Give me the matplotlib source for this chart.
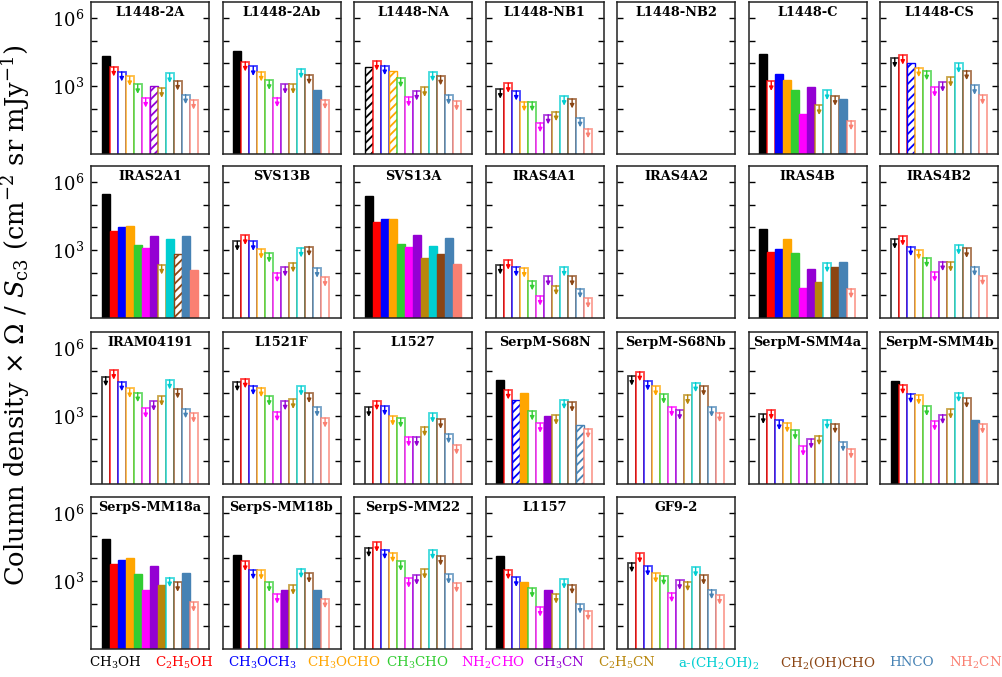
import numpy as np
import matplotlib
matplotlib.use('Agg')
import matplotlib.pyplot as plt
from matplotlib.ticker import FixedLocator, FuncFormatter, NullLocator
from matplotlib.colors import to_rgba

plt.rcParams['font.family'] = ['DejaVu Serif']
plt.rcParams['mathtext.fontset'] = 'dejavuserif'
plt.rcParams['hatch.linewidth'] = 1.3

species = ['CH$_3$OH', 'C$_2$H$_5$OH', 'CH$_3$OCH$_3$', 'CH$_3$OCHO', 'CH$_3$CHO',
           'NH$_2$CHO', 'CH$_3$CN', 'C$_2$H$_5$CN', 'a-(CH$_2$OH)$_2$',
           'CH$_2$(OH)CHO', 'HNCO', 'NH$_2$CN']
colors = ['black', 'red', 'blue', 'orange', 'limegreen', 'magenta', 'darkviolet',
          'darkgoldenrod', 'darkturquoise', 'saddlebrown', 'steelblue', 'salmon']

# log10 of column density x Omega / S_c3 ; status: D=detection, U=upper limit, T=tentative
L1448_2A = [4.33, 3.84, 3.62, 3.42, 3.07, 2.47, 3.00, 2.90, 3.55, 3.22, 2.62, 2.38]
L1448_2A_s = "DUUUUUTUUUUU"
L1448_2Ab = [4.52, 4.06, 3.86, 3.62, 3.25, 2.49, 3.07, 3.07, 3.75, 3.49, 2.84, 2.40]
L1448_2Ab_s = "DUUUUUUUUUDU"
L1448_NA = [3.84, 4.10, 3.90, 3.68, 3.36, 2.51, 2.78, 2.94, 3.62, 3.45, 2.60, 2.33]
L1448_NA_s = "TUUTUUUUUUUU"
L1448_NB1 = [2.86, 3.12, 2.78, 2.30, 2.30, 1.38, 1.73, 1.87, 2.55, 2.43, 1.60, 1.12]
L1448_NB1_s = "UUUUUUUUUUUU"
L1448_C = [4.42, 3.20, 3.54, 3.25, 2.83, 1.75, 2.94, 2.14, 2.80, 2.55, 2.43, 1.47]
L1448_C_s = "DUDDDDDUUUDU"
L1448_CS = [4.23, 4.36, 4.03, 3.81, 3.67, 2.94, 3.16, 3.38, 3.99, 3.68, 3.03, 2.60]
L1448_CS_s = "UUTUUUUUUUUU"
IRAS2A1 = [5.47, 3.82, 4.00, 4.05, 3.21, 3.10, 3.60, 2.34, 3.47, 2.84, 3.63, 2.12]
IRAS2A1_s = "DDDDDDDUDTDD"
SVS13B = [3.38, 3.64, 3.38, 3.03, 2.86, 2.00, 2.25, 2.43, 3.09, 3.15, 2.20, 1.80]
SVS13B_s = "UUUUUUUUUUUU"
SVS13A = [5.36, 4.23, 4.35, 4.35, 3.25, 3.12, 3.66, 2.65, 3.16, 2.82, 3.54, 2.39]
SVS13A_s = "DDDDDDDDDDDD"
IRAS4A1 = [2.34, 2.55, 2.25, 2.20, 1.64, 0.97, 1.83, 1.43, 2.25, 1.83, 1.30, 0.86]
IRAS4A1_s = "UUUUUUUUUUUU"
IRAS4B = [3.92, 2.90, 3.06, 3.47, 2.86, 1.32, 2.14, 1.58, 2.43, 2.24, 2.47, 1.29]
IRAS4B_s = "DDDDDDDDUDDU"
IRAS4B2 = [3.47, 3.61, 3.15, 3.00, 2.65, 2.02, 2.49, 2.46, 3.21, 3.07, 2.27, 1.86]
IRAS4B2_s = "UUUUUUUUUUUU"
IRAM04191 = [4.73, 5.02, 4.51, 4.21, 4.03, 3.33, 3.64, 3.86, 4.59, 4.19, 3.32, 3.12]
IRAM04191_s = "UUUUUUUUUUUU"
L1521F = [4.51, 4.64, 4.34, 4.25, 3.87, 3.19, 3.67, 3.73, 4.31, 3.99, 3.39, 2.91]
L1521F_s = "UUUUUUUUUUUU"
L1527 = [3.38, 3.67, 3.44, 2.99, 2.91, 2.07, 2.07, 2.52, 3.12, 2.85, 2.21, 1.72]
L1527_s = "UUUUUUUUUUUU"
S68N = [4.59, 4.15, 3.72, 4.01, 3.22, 2.68, 2.99, 3.03, 3.72, 3.60, 2.59, 2.44]
S68N_s = "DUTDUUDUUUTU"
S68Nb = [4.76, 4.95, 4.54, 4.30, 3.96, 3.39, 3.25, 3.92, 4.47, 4.31, 3.38, 3.15]
S68Nb_s = "UUUUUUUUUUUU"
SMM4a = [3.07, 3.26, 2.80, 2.69, 2.37, 1.66, 1.98, 2.13, 2.83, 2.65, 1.85, 1.54]
SMM4a_s = "UUUUUUUUUUUU"
SMM4b = [4.54, 4.38, 3.98, 3.92, 3.42, 2.77, 3.06, 3.29, 4.03, 3.77, 2.84, 2.64]
SMM4b_s = "DUUUUUUUUUDU"
MM18a = [4.86, 3.76, 3.93, 4.00, 3.31, 2.59, 3.64, 2.81, 3.15, 2.94, 3.36, 2.06]
MM18a_s = "DDDDDDDDUUDU"
MM18b = [4.16, 3.86, 3.49, 3.47, 2.94, 2.42, 2.59, 2.81, 3.54, 3.33, 2.62, 2.22]
MM18b_s = "DUUUUUDUUUDU"
MM22 = [4.47, 4.70, 4.38, 4.24, 3.86, 3.12, 3.25, 3.51, 4.37, 4.10, 3.29, 2.91]
MM22_s = "UUUUUUUUUUUU"
L1157 = [4.08, 3.49, 3.16, 2.94, 2.68, 1.85, 2.61, 2.42, 3.07, 2.84, 1.98, 1.68]
L1157_s = "DUUDUUDUUUUU"
GF9_2 = [3.80, 4.21, 3.64, 3.33, 3.23, 2.48, 3.03, 2.97, 3.60, 3.25, 2.62, 2.38]
GF9_2_s = "UUUUUUUUUUUU"

panels = [
    [("L1448-2A", L1448_2A, L1448_2A_s), ("L1448-2Ab", L1448_2Ab, L1448_2Ab_s),
     ("L1448-NA", L1448_NA, L1448_NA_s), ("L1448-NB1", L1448_NB1, L1448_NB1_s),
     ("L1448-NB2", None, None), ("L1448-C", L1448_C, L1448_C_s),
     ("L1448-CS", L1448_CS, L1448_CS_s)],
    [("IRAS2A1", IRAS2A1, IRAS2A1_s), ("SVS13B", SVS13B, SVS13B_s),
     ("SVS13A", SVS13A, SVS13A_s), ("IRAS4A1", IRAS4A1, IRAS4A1_s),
     ("IRAS4A2", None, None), ("IRAS4B", IRAS4B, IRAS4B_s),
     ("IRAS4B2", IRAS4B2, IRAS4B2_s)],
    [("IRAM04191", IRAM04191, IRAM04191_s), ("L1521F", L1521F, L1521F_s),
     ("L1527", L1527, L1527_s), ("SerpM-S68N", S68N, S68N_s),
     ("SerpM-S68Nb", S68Nb, S68Nb_s), ("SerpM-SMM4a", SMM4a, SMM4a_s),
     ("SerpM-SMM4b", SMM4b, SMM4b_s)],
    [("SerpS-MM18a", MM18a, MM18a_s), ("SerpS-MM18b", MM18b, MM18b_s),
     ("SerpS-MM22", MM22, MM22_s), ("L1157", L1157, L1157_s),
     ("GF9-2", GF9_2, GF9_2_s)],
]

W, H = 1002, 677
fig = plt.figure(figsize=(W / 100, H / 100), dpi=100)

col_left = [91, 222.5, 354, 485.5, 617, 748.5, 880]
row_top = [2, 166, 332, 497]
pw, ph = 118, 152

x = np.arange(len(species))
for r, row in enumerate(panels):
    for c, (name, vals, st) in enumerate(row):
        ax = fig.add_axes([col_left[c] / W, 1 - (row_top[r] + ph) / H, pw / W, ph / H])
        ax.set_yscale('log')
        ax.set_ylim(1, 10 ** 6.7)
        ax.set_xlim(-1.85, 12.93)
        ax.set_xticks([])
        ax.yaxis.set_major_locator(FixedLocator([10.0 ** k for k in range(1, 7)]))
        ax.yaxis.set_minor_locator(NullLocator())
        ax.yaxis.set_major_formatter(FuncFormatter(
            lambda v, p: ('$10^{%d}$' % round(np.log10(v))) if round(np.log10(v)) in (3, 6) else ''))
        ax.tick_params(axis='y', which='major', direction='in', left=True, right=True,
                       length=4, width=1.0, labelsize=13, labelleft=(c == 0), pad=5)
        for sp in ax.spines.values():
            sp.set_linewidth(1.1)
            sp.set_color('#222222')
        ax.text(0.5, 0.975, name, transform=ax.transAxes, ha='center', va='top',
                fontsize=9.3, fontweight='bold')
        if vals is None:
            continue
        v = 10.0 ** np.array(vals)
        for i in range(len(species)):
            col = colors[i]
            s = st[i]
            if s == 'D':
                ax.bar(x[i], v[i], width=1.0, color=col, edgecolor=col, linewidth=1.0)
            elif s == 'T':
                ax.bar(x[i], v[i], width=1.0, facecolor='white', edgecolor=col,
                       linewidth=1.0, hatch='////')
            else:
                ax.bar(x[i], v[i], width=1.0, facecolor='white',
                       edgecolor=to_rgba(col, 0.75), linewidth=1.3)
                ax.annotate('', xy=(x[i], v[i] / 10 ** 0.42), xytext=(x[i], v[i]),
                            arrowprops=dict(arrowstyle='-|>', color=col, lw=1.0,
                                            mutation_scale=6, shrinkA=0, shrinkB=0))

fig.text(16 / W, 1 - 315 / H,
         r'Column density $\times$ $\Omega$ / $S_{\rm c3}$ (cm$^{-2}$ sr mJy$^{-1}$)',
         rotation=90, ha='center', va='center', fontsize=18.5)

label_center = [115, 184, 262.5, 344, 417.5, 493, 558.5, 627, 718.5, 828, 912, 976]
for i, lab in enumerate(species):
    fig.text(label_center[i] / W, 1 - 663 / H, lab, color=colors[i], ha='center',
             va='center', fontsize=9.6)

fig.savefig('out.png', dpi=100)
